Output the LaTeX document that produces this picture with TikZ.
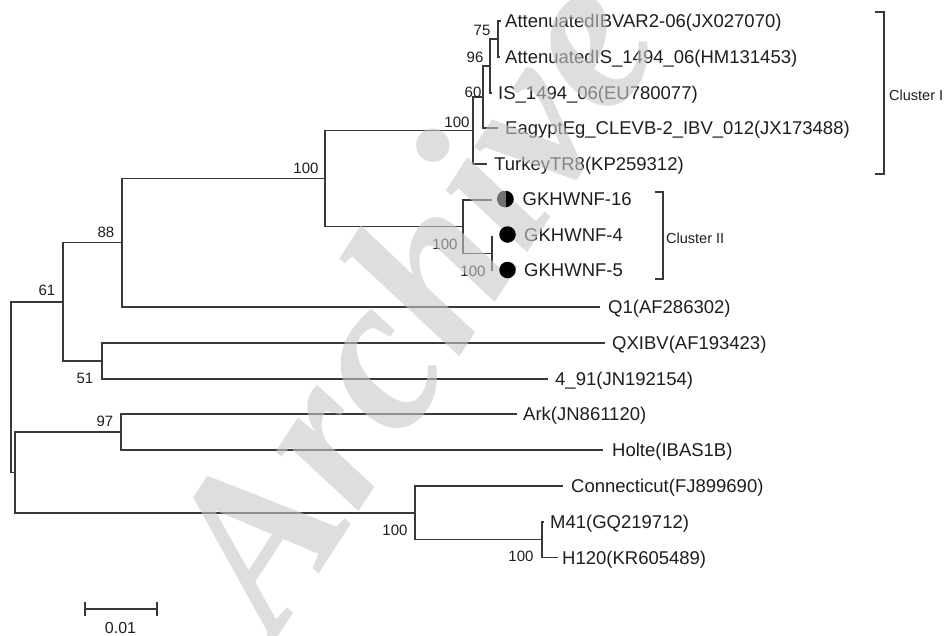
\documentclass[tikz,border=0pt]{standalone}
\usepackage{fontspec}
\setmainfont{Liberation Sans}
\newfontfamily\wmfont{Liberation Serif}
\definecolor{linec}{HTML}{383838}
\definecolor{txtc}{HTML}{1E1E1E}
\definecolor{halfc}{HTML}{707070}
\definecolor{wmc}{HTML}{C8C8C8}
\begin{document}
\begin{tikzpicture}[x=1pt,y=-1pt,
  br/.style={draw=linec, line width=1.3pt},
  leaf/.style={anchor=base west, inner sep=0pt, text=txtc, font=\fontsize{18.5}{20}\selectfont},
  boot/.style={inner sep=0pt, text=txtc, font=\fontsize{15}{16}\selectfont},
  clab/.style={anchor=west, inner sep=0pt, text=txtc, font=\fontsize{14.5}{16}\selectfont},
  dot/.style={circle, fill=black, inner sep=0pt, minimum size=16.5pt},
  brk/.style={draw=linec, line width=1.4pt},
]
\useasboundingbox (0,0) rectangle (947,635);
\fill[white] (0,0) rectangle (947,635);

% internal nodes
\coordinate (r0)   at (11,387.2);
\coordinate (n61)  at (63,301.9);
\coordinate (n88)  at (122,242.8);
\coordinate (nIII) at (325,178.6);
\coordinate (nI)   at (473,130.5);
\coordinate (n60)  at (483,97);
\coordinate (n96)  at (490,66);
\coordinate (n75)  at (498,39);
\coordinate (nII)  at (463,226.6);
\coordinate (n45)  at (492,253.25);
\coordinate (n51)  at (102,361);
\coordinate (nB)   at (15,472.4);
\coordinate (n97)  at (121,432);
\coordinate (nC)   at (415,512.9);
\coordinate (nM)   at (542,539.75);

% leaf tips
\coordinate (t0)  at (500.5,21);
\coordinate (t1)  at (500,57);
\coordinate (t2)  at (492,93);
\coordinate (t3)  at (498,128);
\coordinate (t4)  at (487,164);
\coordinate (t5)  at (492,200);
\coordinate (t6)  at (492,235.5);
\coordinate (t7)  at (492,271);
\coordinate (t8)  at (600,307);
\coordinate (t9)  at (605,343);
\coordinate (t10) at (548,379);
\coordinate (t11) at (517,414);
\coordinate (t12) at (603,450);
\coordinate (t13) at (563,486);
\coordinate (t14) at (544,522);
\coordinate (t15) at (558,557.5);

% branches
\draw[br] (r0) |- (n61);
\draw[br] (r0) |- (nB);
\draw[br] (n61) |- (n88);
\draw[br] (n61) |- (n51);
\draw[br] (n88) |- (nIII);
\draw[br] (n88) |- (t8);
\draw[br] (nIII) |- (nI);
\draw[br] (nIII) |- (nII);
\draw[br] (nI) |- (n60);
\draw[br] (nI) |- (t4);
\draw[br] (n60) |- (n96);
\draw[br] (n60) |- (t3);
\draw[br] (n96) |- (n75);
\draw[br] (n96) |- (t2);
\draw[br] (n75) |- (t0);
\draw[br] (n75) |- (t1);
\draw[br] (nII) |- (t5);
\draw[br] (nII) |- (n45);
\draw[br] (n45) |- (t6);
\draw[br] (n45) |- (t7);
\draw[br] (n51) |- (t9);
\draw[br] (n51) |- (t10);
\draw[br] (nB) |- (n97);
\draw[br] (nB) |- (nC);
\draw[br] (n97) |- (t11);
\draw[br] (n97) |- (t12);
\draw[br] (nC) |- (t13);
\draw[br] (nC) |- (nM);
\draw[br] (nM) |- (t14);
\draw[br] (nM) |- (t15);

% leaf labels
\node[leaf] (L0)  at (505,27.7)  {AttenuatedIBVAR2-06(JX027070)};
\node[leaf] (L1)  at (505,63.7)  {AttenuatedIS\_1494\_06(HM131453)};
\node[leaf] (L2)  at (498,99.7)  {IS\_1494\_06(EU780077)};
\node[leaf] (L3)  at (505,134.7) {EagyptEg\_CLEVB-2\_IBV\_012(JX173488)};
\node[leaf] (L4)  at (494,170.7) {TurkeyTR8(KP259312)};
\node[leaf] (L5)  at (522.5,205.7) {GKHWNF-16};
\node[leaf] (L6)  at (524,241.2) {GKHWNF-4};
\node[leaf] (L7)  at (524,276.7) {GKHWNF-5};
\node[leaf] (L8)  at (608,313.7) {Q1(AF286302)};
\node[leaf] (L9)  at (612,349.7) {QXIBV(AF193423)};
\node[leaf] (L10) at (555,385.7) {4\_91(JN192154)};
\node[leaf] (L11) at (523,420.7) {Ark(JN861120)};
\node[leaf] (L12) at (612,456.7) {Holte(IBAS1B)};
\node[leaf] (L13) at (571,492.7) {Connecticut(FJ899690)};
\node[leaf] (L14) at (550,528.7) {M41(GQ219712)};
\node[leaf] (L15) at (562,564.2) {H120(KR605489)};

% bootstrap values
\node[boot] (b75)   at (482,30)  {75};
\node[boot] (b96)   at (475,57)  {96};
\node[boot] (b60)   at (473,92)  {60};
\node[boot] (bI)    at (457,122) {100};
\node[boot] (bIII)  at (306,168) {100};
\node[boot] (b88)   at (106,232) {88};
\node[boot] (b61)   at (47,290)  {61};
\node[boot] (b51)   at (85,378)  {51};
\node[boot] (b97)   at (105,421) {97};
\node[boot] (bII)   at (445,244) {100};
\node[boot] (b45)   at (473,271) {100};
\node[boot] (bC)    at (395,530) {100};
\node[boot] (bM)    at (521,556) {100};

% cluster brackets
\coordinate (c1a) at (875,12);
\coordinate (c1b) at (884,12);
\coordinate (c1c) at (884,174);
\coordinate (c1d) at (875,174);
\draw[brk] (c1a) -- (c1b) -- (c1c) -- (c1d);
\node[clab] (cl1) at (889,95) {Cluster I};
\coordinate (c2a) at (655,192);
\coordinate (c2b) at (663,192);
\coordinate (c2c) at (663,279);
\coordinate (c2d) at (655,279);
\draw[brk] (c2a) -- (c2b) -- (c2c) -- (c2d);
\node[clab] (cl2) at (666,238) {Cluster II};

% scale bar
\coordinate (s1) at (85,609);
\coordinate (s2) at (157,609);
\draw[draw=linec, line width=2.6pt] (s1) -- (s2);
\draw[draw=linec, line width=1.8pt] ([yshift=-7]s1) -- ([yshift=7]s1);
\draw[draw=linec, line width=1.8pt] ([yshift=-7]s2) -- ([yshift=7]s2);
\node[boot, font=\fontsize{16}{17}\selectfont] (sl) at (120.5,627.5) {0.01};

% watermark
\begin{scope}
\clip (0,0) rectangle (947,635);
\node[rotate=57, anchor=base west, inner sep=0pt, text=wmc, text opacity=0.6,
  font=\wmfont\bfseries\itshape\fontsize{222}{222}\selectfont] (wm) at (276,640) {Archive of SID};
\end{scope}

% markers (on top)
\node[dot, path picture={\fill[halfc] (path picture bounding box.south west) rectangle (path picture bounding box.north);}] (d5) at (505.5,199) {};
\node[dot] (d6) at (507.5,234.5) {};
\node[dot] (d7) at (507.5,270) {};
\end{tikzpicture}
\end{document}
